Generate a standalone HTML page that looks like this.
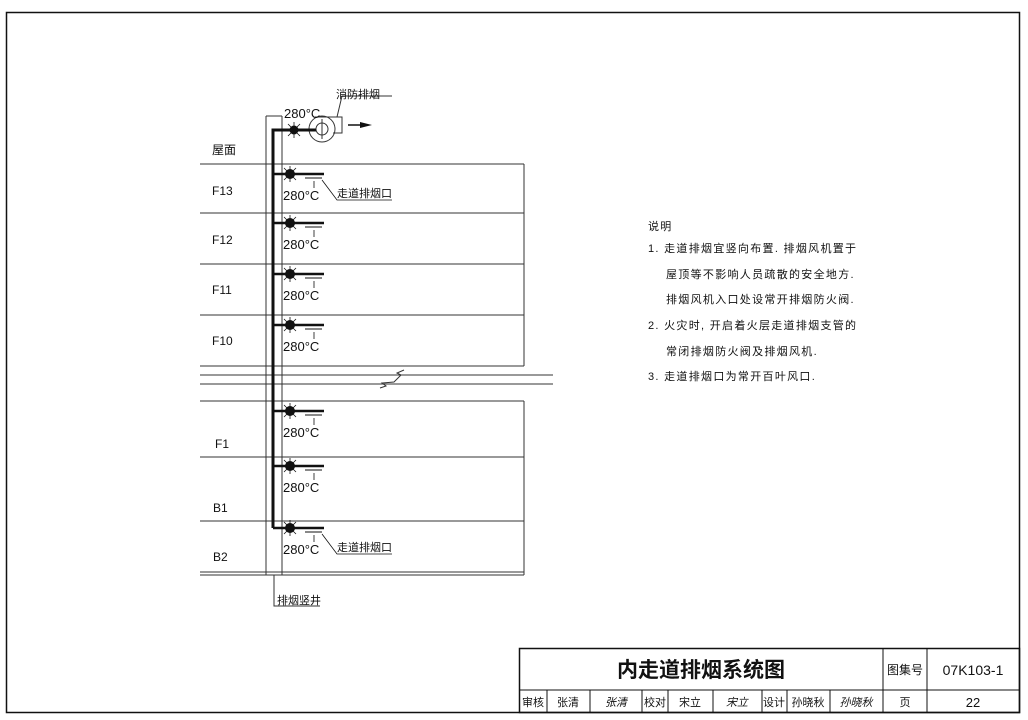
<!DOCTYPE html>
<html><head><meta charset="utf-8"><style>
html,body{margin:0;padding:0;background:#fff;}
svg{display:block}
text{font-family:"Liberation Sans","Noto Sans CJK SC",sans-serif;fill:#111}
</style></head><body>
<svg width="1028" height="720" viewBox="0 0 1028 720" xmlns="http://www.w3.org/2000/svg">
<rect x="6.5" y="12.5" width="1013" height="700" fill="none" stroke="#111" stroke-width="1.5"/>
<g stroke="#333" stroke-width="1" fill="none">
<line x1="200" y1="164" x2="524" y2="164"/>
<line x1="200" y1="213" x2="524" y2="213"/>
<line x1="200" y1="264" x2="524" y2="264"/>
<line x1="200" y1="315" x2="524" y2="315"/>
<line x1="200" y1="366" x2="524" y2="366"/>
<line x1="200" y1="375" x2="553" y2="375"/>
<line x1="200" y1="384" x2="553" y2="384"/>
<line x1="200" y1="401" x2="524" y2="401"/>
<line x1="200" y1="457" x2="524" y2="457"/>
<line x1="200" y1="521" x2="524" y2="521"/>
<line x1="200" y1="572" x2="524" y2="572"/>
<line x1="200" y1="575" x2="524" y2="575"/>
<line x1="524" y1="164" x2="524" y2="366"/>
<line x1="524" y1="401" x2="524" y2="575"/>
<polyline points="380,388 386,386 382,383 394,382 398,378 401,375 397,373 404,370"/>
<line x1="266" y1="116" x2="266" y2="575"/>
<line x1="282" y1="116" x2="282" y2="575"/>
<line x1="266" y1="116" x2="282" y2="116"/>
<polyline points="274,575 274,606 320,606"/>
<circle cx="322" cy="129" r="13"/>
<circle cx="322" cy="129" r="6"/>
<line x1="322" y1="119" x2="322" y2="139"/>
<polyline points="315,117 342,117 342,133 333,133"/>
<polyline points="337,117 342,96 392,96"/>
</g>
<polygon points="360,122 372,125 360,128" fill="#111"/>
<line x1="348" y1="125" x2="362" y2="125" stroke="#111" stroke-width="1.5"/>
<polyline points="273,528 273,130 316,130" stroke="#111" stroke-width="3" fill="none"/>
<circle cx="294" cy="130" r="4.5" fill="#111"/>
<g stroke="#111" stroke-width="0.8"><line x1="288" y1="124" x2="300" y2="136"/><line x1="288" y1="136" x2="300" y2="124"/><line x1="294" y1="122" x2="294" y2="138"/></g>
<text x="284" y="118" font-size="13">280°C</text>
<text x="336" y="98" font-size="11">消防排烟</text>
<text x="277" y="604" font-size="11">排烟竖井</text>
<g fill="#111" stroke="#111">
<path d="M273 174H324M273 223H324M273 274H324M273 325H324M273 411H324M273 466H324M273 528H324" stroke-width="2.5" fill="none"/>
<path d="M305 178H322M305 227H322M305 278H322M305 329H322M305 415H322M305 470H322M305 532H322" stroke-width="1" fill="none"/>
<path d="M314 181V188M314 230V237M314 281V288M314 332V339M314 418V425M314 473V480M314 535V542" stroke-width="0.8" fill="none"/>
<circle cx="290" cy="174" r="4.5"/><circle cx="290" cy="223" r="4.5"/><circle cx="290" cy="274" r="4.5"/><circle cx="290" cy="325" r="4.5"/><circle cx="290" cy="411" r="4.5"/><circle cx="290" cy="466" r="4.5"/><circle cx="290" cy="528" r="4.5"/>
<path d="M284 168l12 12M284 180l12-12M284 217l12 12M284 229l12-12M284 268l12 12M284 280l12-12M284 319l12 12M284 331l12-12M284 405l12 12M284 417l12-12M284 460l12 12M284 472l12-12M284 522l12 12M284 534l12-12M290 166v16M290 215v16M290 266v16M290 317v16M290 403v16M290 458v16M290 520v16" stroke-width="0.8" fill="none"/>
<path d="M322 180L337 200H392M322 534L337 554H392" stroke-width="0.8" fill="none"/>
</g>
<g font-size="13">
<text x="283" y="200">280°C</text><text x="283" y="249">280°C</text><text x="283" y="300">280°C</text><text x="283" y="351">280°C</text><text x="283" y="437">280°C</text><text x="283" y="492">280°C</text><text x="283" y="554">280°C</text>
</g>
<g font-size="11"><text x="337" y="197">走道排烟口</text><text x="337" y="551">走道排烟口</text></g>
<g font-size="12" fill="#222">
<text x="212" y="154">屋面</text>
<text x="212" y="195">F13</text><text x="212" y="244">F12</text><text x="212" y="294">F11</text><text x="212" y="345">F10</text>
<text x="215" y="448">F1</text><text x="213" y="512">B1</text><text x="213" y="561">B2</text>
</g>
<g font-size="11" letter-spacing="1.3">
<text x="648" y="230">说明</text>
<text x="648" y="252">1. 走道排烟宜竖向布置. 排烟风机置于</text>
<text x="666" y="278">屋顶等不影响人员疏散的安全地方.</text>
<text x="666" y="303">排烟风机入口处设常开排烟防火阀.</text>
<text x="648" y="329">2. 火灾时, 开启着火层走道排烟支管的</text>
<text x="666" y="355">常闭排烟防火阀及排烟风机.</text>
<text x="648" y="380">3. 走道排烟口为常开百叶风口.</text>
</g>
<g stroke="#111" fill="none">
<rect x="519.5" y="648.5" width="500" height="64" stroke-width="1.5"/>
<line x1="519" y1="690" x2="1020" y2="690"/>
<line x1="883" y1="648" x2="883" y2="712"/>
<line x1="927" y1="648" x2="927" y2="712"/>
<path d="M547 690V712M590 690V712M642 690V712M668 690V712M713 690V712M762 690V712M787 690V712M830 690V712"/>
</g>
<text x="701" y="677" font-size="21" text-anchor="middle" font-weight="bold">内走道排烟系统图</text>
<text x="905" y="674" font-size="12" text-anchor="middle">图集号</text>
<text x="973" y="675" font-size="14" text-anchor="middle">07K103-1</text>
<g font-size="11" text-anchor="middle">
<text x="533" y="706">审核</text><text x="568" y="706">张清</text><text x="616" y="706" font-style="italic">张清</text>
<text x="655" y="706">校对</text><text x="690" y="706">宋立</text><text x="737" y="706" font-style="italic">宋立</text>
<text x="774" y="706">设计</text><text x="808" y="706">孙晓秋</text><text x="856" y="706" font-style="italic">孙晓秋</text>
<text x="905" y="706">页</text><text x="973" y="707" font-size="13">22</text>
</g>
</svg>
</body></html>
